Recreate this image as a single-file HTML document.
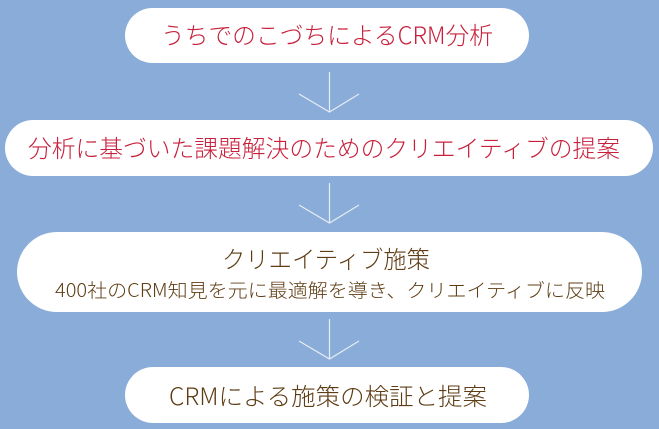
<!DOCTYPE html>
<html><head><meta charset="utf-8"><style>
html,body{margin:0;padding:0;background:#8aacd9;}
svg{display:block}
text{font-family:"Noto Sans CJK JP","Liberation Sans",sans-serif;font-weight:300;}
</style></head><body>
<svg width="659" height="429" viewBox="0 0 659 429" xmlns="http://www.w3.org/2000/svg">
<rect width="659" height="429" fill="#8aacd9"/>
<g fill="#fff">
<rect x="125" y="8" width="404" height="55" rx="27.5"/>
<rect x="5" y="120" width="648" height="56" rx="28"/>
<rect x="17" y="232" width="625" height="80" rx="40"/>
<rect x="125" y="367" width="404" height="56" rx="28"/>
</g>
<g stroke="#e6ecf4" stroke-width="1.2" fill="none">
<path d="M329.5 72V112M299 94L329.5 112L359 94"/>
<path d="M329.5 183V223M299 205L329.5 223L359 205"/>
<path d="M329.5 319V359M299 341L329.5 359L359 341"/>
</g>
<g font-size="24" text-anchor="middle">
<text x="327" y="44" fill="#c8203c" textLength="332" lengthAdjust="spacingAndGlyphs">うちでのこづちによるCRM分析</text>
<text x="324" y="157" fill="#c8203c" textLength="592" lengthAdjust="spacingAndGlyphs">分析に基づいた課題解決のためのクリエイティブの提案</text>
<text x="326" y="268" fill="#5e3d14" textLength="208" lengthAdjust="spacingAndGlyphs">クリエイティブ施策</text>
<text x="328" y="405" fill="#5e3d14" textLength="318" lengthAdjust="spacingAndGlyphs">CRMによる施策の検証と提案</text>
</g>
<text x="330" y="297" font-size="19" text-anchor="middle" fill="#5e3d14" textLength="550" lengthAdjust="spacingAndGlyphs">400社のCRM知見を元に最適解を導き、クリエイティブに反映</text>
</svg>
</body></html>
